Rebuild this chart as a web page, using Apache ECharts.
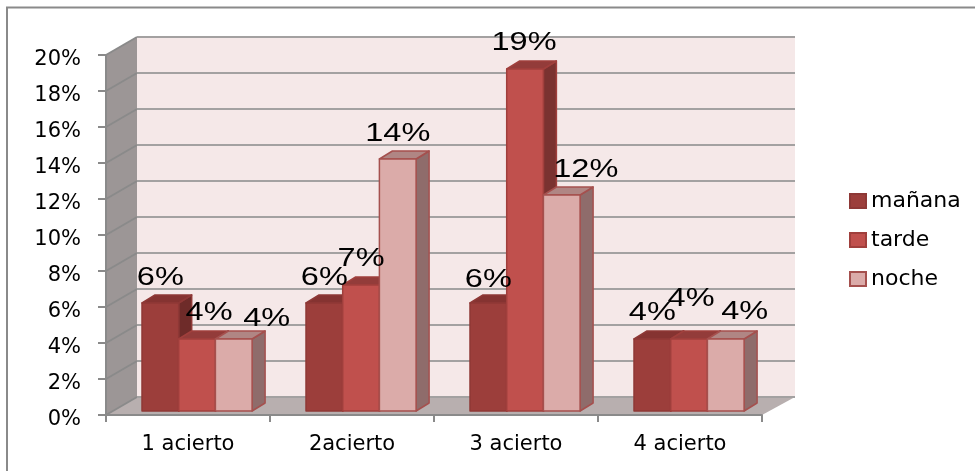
<!DOCTYPE html>
<html>
<head>
<meta charset="utf-8">
<style>html,body{margin:0;padding:0;background:#fff}#c{width:975px;height:471px}</style>
<script src="https://cdn.jsdelivr.net/npm/echarts@6/dist/echarts.min.js"></script>
</head>
<body>
<div id="c"></div>
<script>
const categories = ['1 acierto', '2acierto', '3 acierto', '4 acierto'];
const manana = [6, 6, 6, 4];
const tarde = [4, 7, 19, 4];
const noche = [4, 14, 12, 4];
const yTicks = [0, 2, 4, 6, 8, 10, 12, 14, 16, 18, 20];

// Hand placement of the value labels, relative to each bar's top centre [dx, dy]
const mananaNudge = [[0, -25], [0, -25], [0, -23], [0, -26]];
const tardeNudge = [[12, -26], [0, -26], [-1, -26], [2, -40]];
const nocheNudge = [[33, -20], [0, -25], [24, -25], [19, -27]];

const BAR_W = 36.7, FIRST = -46, BASE_UP = 4, DX = 13, DY = 8;
const WALL_DX = 31, WALL_DY = 18, WALL_RIGHT_DX = 33;

const looks = [
  { front: '#9C3E3B', top: '#853331', side: '#6E2B29', stroke: '#8E3836' },
  { front: '#C0504D', top: '#933C3A', side: '#7A3230', stroke: '#A03F3C' },
  { front: '#DBABA9', top: '#B08684', side: '#8F6C6B', stroke: '#A5504E' }
];

function barRenderer(index, nudges) {
  const look = looks[index];
  return function (params, api) {
    const cat = api.value(0), val = api.value(1);
    const top = api.coord([cat, val]);
    const zero = api.coord([cat, 0]);
    const x0 = top[0] + FIRST + index * BAR_W, x1 = x0 + BAR_W;
    const yT = top[1] - BASE_UP, yB = zero[1] - BASE_UP;
    const border = { stroke: look.stroke, lineWidth: 1.5, lineJoin: 'round' };
    const n = nudges[params.dataIndex];
    return {
      type: 'group',
      children: [
        { type: 'polygon', shape: { points: [[x1, yT], [x1 + DX, yT - DY], [x1 + DX, yB - DY], [x1, yB]] },
          style: Object.assign({ fill: look.side }, border) },
        { type: 'polygon', shape: { points: [[x0, yT], [x0 + DX, yT - DY], [x1 + DX, yT - DY], [x1, yT]] },
          style: Object.assign({ fill: look.top }, border) },
        { type: 'rect', shape: { x: x0, y: yT, width: BAR_W, height: yB - yT },
          style: Object.assign({ fill: look.front }, border) },
        { type: 'text', x: (x0 + x1) / 2 + n[0], y: yT + n[1], scaleX: 1.25, z2: 100,
          style: { text: val + '%', fill: '#000', font: '26px "Liberation Sans"', align: 'center', verticalAlign: 'middle' } }
      ]
    };
  };
}

function wallRenderer(params, api) {
  const g = params.coordSys;
  const left = g.x, right = g.x + g.width, bottom = g.y + g.height, topY = g.y;
  const y = api.coord([0, api.value(0)])[1];
  const children = [];
  if (api.value(0) === 0) {
    children.push(
      { type: 'polygon', shape: { points: [[left + WALL_DX, topY - WALL_DY], [right + WALL_RIGHT_DX, topY - WALL_DY], [right + WALL_RIGHT_DX, bottom - WALL_DY], [left + WALL_DX, bottom - WALL_DY]] }, style: { fill: '#F5E8E8' }, z2: 0 },
      { type: 'polygon', shape: { points: [[left, topY], [left + WALL_DX, topY - WALL_DY], [left + WALL_DX, bottom - WALL_DY], [left, bottom]] }, style: { fill: '#9C9696' }, z2: 0 },
      { type: 'polygon', shape: { points: [[left, bottom], [left + WALL_DX, bottom - WALL_DY], [right + WALL_RIGHT_DX, bottom - WALL_DY], [right, bottom]] }, style: { fill: '#B8AFAF' }, z2: 0 }
    );
  }
  children.push(
    { type: 'line', z2: 1, shape: { x1: left, y1: y, x2: left + WALL_DX, y2: y - WALL_DY },
      style: { stroke: '#8A8A8A', lineWidth: 2 } },
    { type: 'line', z2: 1, shape: { x1: left + WALL_DX, y1: y - WALL_DY, x2: right + WALL_RIGHT_DX, y2: y - WALL_DY },
      style: { stroke: '#A3A1A1', lineWidth: 2 } }
  );
  return { type: 'group', children };
}

function barSeries(name, values, index, nudges) {
  return {
    name, type: 'custom', coordinateSystem: 'cartesian2d', silent: true, z: 3,
    itemStyle: { color: looks[index].front, borderColor: looks[index].stroke, borderWidth: 2 },
    encode: { x: 0, y: 1 },
    data: values.map((v, i) => [i, v]),
    renderItem: barRenderer(index, nudges)
  };
}

const chart = echarts.init(document.getElementById('c'), null, { renderer: 'canvas' });
chart.setOption({
  animation: false,
  backgroundColor: '#fff',
  grid: { left: 106, right: 213, top: 55, bottom: 56, containLabel: false },
  graphic: [{ type: 'polyline', silent: true, shape: { points: [[7, 480], [7, 7.5], [980, 7.5]] },
    style: { fill: 'none', stroke: '#8A8A8A', lineWidth: 2 } }],
  legend: {
    orient: 'vertical', left: 844, top: 185, itemWidth: 16, itemHeight: 14, itemGap: 17, icon: 'rect',
    selectedMode: false,
    textStyle: { fontFamily: 'DejaVu Sans', fontSize: 22, color: '#000' },
    data: ['mañana', 'tarde', 'noche']
  },
  xAxis: {
    type: 'category', data: categories,
    axisLine: { lineStyle: { color: '#8A8A8A', width: 2 } },
    axisTick: { show: true, length: 7, lineStyle: { color: '#8A8A8A', width: 2 } },
    axisLabel: { color: '#000', fontFamily: 'DejaVu Sans', fontSize: 21, margin: 19 },
    splitLine: { show: false }, z: 2
  },
  yAxis: {
    type: 'value', min: 0, max: 20, interval: 2,
    axisLine: { show: true, lineStyle: { color: '#8A8A8A', width: 2 } },
    axisTick: { show: true, length: 8, lineStyle: { color: '#8A8A8A', width: 2 } },
    axisLabel: { color: '#000', fontFamily: 'DejaVu Sans', fontSize: 21, margin: 25, verticalAlign: 'top', lineHeight: 10, formatter: '{value}%' },
    splitLine: { show: false }, z: 2
  },
  series: [
    { type: 'custom', coordinateSystem: 'cartesian2d', silent: true, z: 1, clip: false,
      encode: { y: 0 }, data: yTicks.map(v => [v]), renderItem: wallRenderer },
    barSeries('mañana', manana, 0, mananaNudge),
    barSeries('tarde', tarde, 1, tardeNudge),
    barSeries('noche', noche, 2, nocheNudge)
  ]
});
</script>
</body>
</html>
